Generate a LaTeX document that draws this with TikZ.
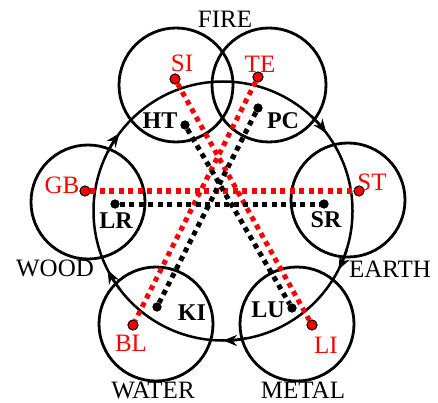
\documentclass[tikz,border=0pt]{standalone}
\usepackage{fontspec}
\setmainfont{Liberation Serif}
\usetikzlibrary{arrows.meta}
\begin{document}
\begin{tikzpicture}[x=1pt,y=-1pt,
  elem/.style={draw=black, line width=2.8pt, circle, minimum size=114pt, inner sep=0pt},
  ring/.style={draw=black, line width=2.5pt, circle, minimum size=259pt, inner sep=0pt},
  cycarrow/.style={line width=2.5pt, -{Stealth[length=14pt,width=11pt]}},
  reddot/.style={circle, fill=red, draw=black, line width=0.9pt, minimum size=10pt, inner sep=0pt},
  blkdot/.style={circle, fill=black, minimum size=9pt, inner sep=0pt},
  reddash/.style={draw=red, line width=5pt, dash pattern=on 5pt off 4.5pt},
  blkdash/.style={draw=black, line width=5pt, dash pattern=on 5pt off 4.5pt},
  elemname/.style={font=\fontsize{25}{30}\selectfont, inner sep=0pt},
  redlab/.style={font=\fontsize{25}{30}\selectfont, text=red, inner sep=0pt},
  blklab/.style={font=\fontsize{24}{30}\selectfont\bfseries, inner sep=0pt}]
\useasboundingbox (0,0) rectangle (438,403);
\fill[white] (0,0) rectangle (438,403);

% element circles
\node[elem] (fireL) at (176,85) {};
\node[elem] (fireR) at (269,85) {};
\node[elem] (earth) at (348,200) {};
\node[elem] (wood) at (88,202) {};
\node[elem] (water) at (156,324) {};
\node[elem] (metal) at (297,324) {};

% generation cycle
\coordinate (C) at (223,211);
\node[ring] (cycle) at (C) {};
\draw[cycarrow] ([shift={(153:129.5pt)}]C) arc[start angle=153, end angle=143, radius=129.5pt];
\draw[cycarrow] ([shift={(47:129.5pt)}]C) arc[start angle=47, end angle=37, radius=129.5pt];
\draw[cycarrow] ([shift={(-17:129.5pt)}]C) arc[start angle=-17, end angle=-27, radius=129.5pt];
\draw[cycarrow] ([shift={(-80:129.5pt)}]C) arc[start angle=-80, end angle=-90, radius=129.5pt];
\draw[cycarrow] ([shift={(217:129.5pt)}]C) arc[start angle=217, end angle=207, radius=129.5pt];

% points
\node[reddot] (SI) at (175,79) {};
\node[reddot] (TE) at (258,77) {};
\node[blkdot] (HT) at (185,125) {};
\node[blkdot] (PC) at (258,108) {};
\node[reddot] (GB) at (85,191) {};
\node[blkdot] (LR) at (115,204) {};
\node[reddot] (ST) at (359,191) {};
\node[blkdot] (SR) at (324,204) {};
\node[blkdot] (KI) at (157,307) {};
\node[reddot] (BL) at (133,325) {};
\node[blkdot] (LU) at (292,308) {};
\node[reddot] (LI) at (312,325) {};

% meridian connections
\draw[reddash] (SI) -- (LI);
\draw[reddash] (TE) -- (BL);
\draw[reddash] (GB) -- (ST);
\draw[blkdash] (HT) -- (LU);
\draw[blkdash] (PC) -- (KI);
\draw[blkdash] (LR) -- (SR);

% redraw dots on top
\node[reddot] at (SI) {};
\node[reddot] at (TE) {};
\node[reddot] at (GB) {};
\node[reddot] at (ST) {};
\node[reddot] at (BL) {};
\node[reddot] at (LI) {};
\node[blkdot] at (HT) {};
\node[blkdot] at (PC) {};
\node[blkdot] at (LR) {};
\node[blkdot] at (SR) {};
\node[blkdot] at (KI) {};
\node[blkdot] at (LU) {};

% labels
\node[redlab] (SIl) at (182,63) {SI};
\node[redlab] (TEl) at (260,64) {TE};
\node[blklab] (HTl) at (160,121) {HT};
\node[blklab] (PCl) at (283,121) {PC};
\node[redlab] (GBl) at (62,185) {GB};
\node[blklab] (LRl) at (116,221) {LR};
\node[redlab] (STl) at (372,182) {ST};
\node[blklab] (SRl) at (326,220) {SR};
\node[blklab] (KIl) at (192,313) {KI};
\node[redlab] (BLl) at (131,343) {BL};
\node[blklab] (LUl) at (268,310) {LU};
\node[redlab] (LIl) at (326,345) {LI};

% element names
\node[elemname] (FIRE) at (225,19) {FIRE};
\node[elemname] (WOOD) at (55,268) {WOOD};
\node[elemname] (EARTH) at (390,269) {EARTH};
\node[elemname] (WATER) at (153,390) {WATER};
\node[elemname] (METAL) at (303,390) {METAL};
\end{tikzpicture}
\end{document}
